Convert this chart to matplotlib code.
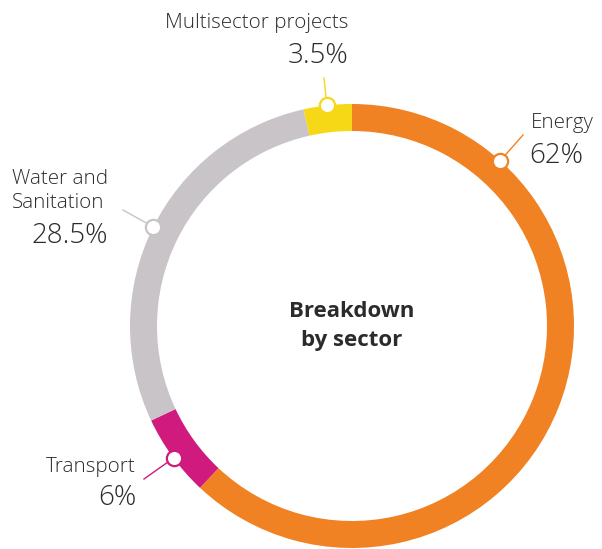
import numpy as np
import matplotlib.pyplot as plt

# segment data, clockwise from 12 o'clock
sectors = ["Energy", "Transport", "Water and\nSanitation", "Multisector projects"]
shares = [62, 6, 28.5, 3.5]
share_labels = ["62%", "6%", "28.5%", "3.5%"]
colors = ["#F08224", "#D01A7D", "#C9C4C8", "#F6D817"]

W, H = 602, 549
cx, cy = 352, H - 326  # ring centre (pixels, y up)
R = 222
ring = 27

plt.rcParams["font.family"] = ["Open Sans", "DejaVu Sans"]
txt = "#2b2b2b"

fig = plt.figure(figsize=(W / 100, H / 100), dpi=100)
ax = fig.add_axes([0, 0, 1, 1])

wedges, _ = ax.pie(
    shares,
    colors=colors,
    startangle=90,
    counterclock=False,
    center=(cx, cy),
    radius=R,
    wedgeprops=dict(width=ring, linewidth=0),
    frame=True,
)
ax.set_xlim(0, W)
ax.set_ylim(0, H)
ax.set_aspect("equal")
ax.axis("off")

# marker angle on outer edge, and leader line end (pixel coords, y down)
marker_ang = [48.1, -143.5, 153.5, 96.5]
leader_end = [(523, 135), (144, 479), (123, 210), (324, 78)]

for i, w in enumerate(wedges):
    a = np.deg2rad(marker_ang[i])
    mx, my = cx + R * np.cos(a), cy + R * np.sin(a)
    lx, ly = leader_end[i]
    ax.plot([mx, lx], [my, H - ly], color=colors[i], lw=1.0, zorder=3)
    ax.plot(mx, my, "o", ms=11, mfc="white", mec=colors[i], mew=1.6, zorder=4)

fs_name = 14.8
fs_pct = 20
kw = dict(color=txt, va="baseline", fontweight="light")
# Energy
ax.text(531, H - 128, sectors[0], fontsize=fs_name, ha="left", **kw)
ax.text(529, H - 163, share_labels[0], fontsize=fs_pct, ha="left", **kw)
# Transport
ax.text(136, H - 472, sectors[1], fontsize=fs_name, ha="right", **kw)
ax.text(136, H - 505, share_labels[1], fontsize=fs_pct, ha="right", **kw)
# Water and Sanitation
ax.text(108, H - 208, sectors[2], fontsize=fs_name, ha="right",
        linespacing=1.3, multialignment="left", **kw)
ax.text(108, H - 243, share_labels[2], fontsize=fs_pct, ha="right", **kw)
# Multisector
ax.text(348, H - 28, sectors[3], fontsize=fs_name, ha="right", **kw)
ax.text(348, H - 63, share_labels[3], fontsize=fs_pct, ha="right", **kw)

ax.text(cx, cy, "Breakdown\nby sector", fontsize=16, fontweight="bold",
        color=txt, ha="center", va="center", linespacing=1.5)

fig.savefig("out.png", dpi=100)
